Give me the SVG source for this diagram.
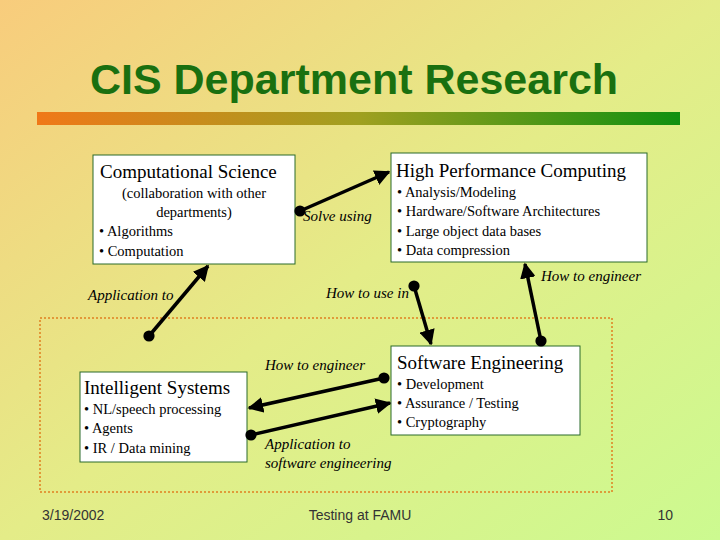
<svg xmlns="http://www.w3.org/2000/svg" width="720" height="540" viewBox="0 0 720 540">
<defs>
<linearGradient id="bg" x1="0" y1="0" x2="1" y2="1"><stop offset="0" stop-color="#f8cc7c"/><stop offset="0.5" stop-color="#e4ec88"/><stop offset="1" stop-color="#ccfa90"/></linearGradient>
<linearGradient id="bar" x1="0" y1="0" x2="1" y2="0"><stop offset="0" stop-color="#f07818"/><stop offset="0.5" stop-color="#a0a020"/><stop offset="1" stop-color="#109010"/></linearGradient>
<marker id="ah" viewBox="0 0 10 10" refX="9" refY="5" markerWidth="4.5" markerHeight="4.5" orient="auto"><path d="M0,0 L10,5 L0,10 z" fill="#000"/></marker>
<marker id="dot" viewBox="0 0 10 10" refX="5" refY="5" markerWidth="3.2" markerHeight="3.2"><circle cx="5" cy="5" r="5" fill="#000"/></marker>
</defs>
<style>
.box{fill:#fff;stroke:#2a6a2a;stroke-width:1}
.h{font-family:"Liberation Serif",serif;font-size:19px}
.t{font-family:"Liberation Serif",serif;font-size:14.5px}
.l{font-family:"Liberation Serif",serif;font-size:15px;font-style:italic}
.c{stroke:#000;stroke-width:3.5;marker-start:url(#dot);marker-end:url(#ah)}
.f{font-family:"Liberation Sans",sans-serif;font-size:14px;fill:#333}
</style>
<rect width="720" height="540" fill="url(#bg)"/>
<text x="354" y="94" text-anchor="middle" font-family="Liberation Sans,sans-serif" font-weight="bold" font-size="43" fill="#1a7010">CIS Department Research</text>
<rect x="37" y="112" width="643" height="13" fill="url(#bar)"/>
<rect x="40" y="318" width="572" height="174" fill="none" stroke="#e08020" stroke-width="1.5" stroke-dasharray="2,2"/>
<g id="cs"><rect class="box" x="93" y="155" width="202" height="109"/>
<text class="h" x="100" y="178">Computational Science</text>
<text class="t" x="194" y="198" text-anchor="middle">(collaboration with other</text>
<text class="t" x="194" y="217" text-anchor="middle">departments)</text>
<text class="t" x="99" y="236">• Algorithms</text>
<text class="t" x="99" y="256">• Computation</text></g>
<g id="hpc"><rect class="box" x="391" y="153" width="256" height="109"/>
<text class="h" x="396" y="177">High Performance Computing</text>
<text class="t" x="397" y="197">• Analysis/Modeling</text>
<text class="t" x="397" y="216">• Hardware/Software Architectures</text>
<text class="t" x="397" y="236">• Large object data bases</text>
<text class="t" x="397" y="255">• Data compression</text></g>
<g id="is"><rect class="box" x="80" y="372" width="167" height="90"/>
<text class="h" x="84" y="394">Intelligent Systems</text>
<text class="t" x="84" y="414">• NL/speech processing</text>
<text class="t" x="84" y="433">• Agents</text>
<text class="t" x="84" y="453">• IR / Data mining</text></g>
<g id="se"><rect class="box" x="391" y="346" width="189" height="89"/>
<text class="h" x="397" y="369">Software Engineering</text>
<text class="t" x="397" y="389">• Development</text>
<text class="t" x="397" y="408">• Assurance / Testing</text>
<text class="t" x="397" y="427">• Cryptography</text></g>
<g id="connectors">
<line class="c" x1="149" y1="336" x2="208" y2="266"/>
<line class="c" x1="300" y1="211" x2="389" y2="172"/>
<line class="c" x1="414" y1="286" x2="431" y2="344"/>
<line class="c" x1="541" y1="341" x2="525" y2="264"/>
<line class="c" x1="384" y1="378" x2="249" y2="408"/>
<line class="c" x1="251" y1="435" x2="390" y2="403"/>
<text class="l" x="88" y="300">Application  to</text>
<text class="l" x="303" y="221">Solve using</text>
<text class="l" x="326" y="298">How to use in</text>
<text class="l" x="541" y="281">How to engineer</text>
<text class="l" x="265" y="370">How to engineer</text>
<text class="l" x="265" y="449">Application to</text>
<text class="l" x="265" y="468">software  engineering</text>
</g>
<text class="f" x="42" y="520">3/19/2002</text>
<text class="f" x="360" y="520" text-anchor="middle">Testing at FAMU</text>
<text class="f" x="673" y="520" text-anchor="end">10</text>
</svg>
